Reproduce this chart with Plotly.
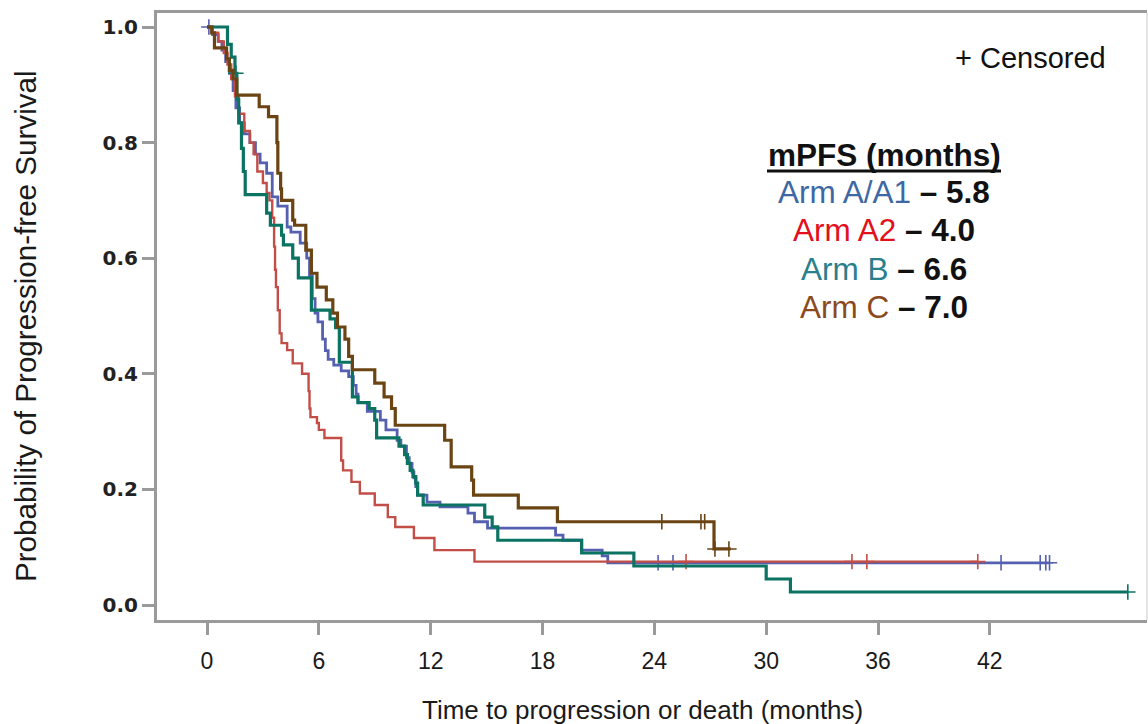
import numpy as np
import plotly.graph_objects as go

# Kaplan-Meier step data: event times (months) and survival after each step
arm_a_t = [0, 0.3, 0.6, 0.8, 1.0, 1.2, 1.4, 1.55, 1.75, 2.0, 2.3, 2.6, 2.85, 3.2, 3.5, 3.8, 4.3, 4.5,
           5.0, 5.35, 5.5, 5.65, 5.8, 5.95, 6.2, 6.35, 6.5, 6.8, 7.2, 7.6, 7.85, 8.0, 8.1, 8.6, 9.3,
           9.6, 10.2, 10.4, 10.7, 10.85, 11.0, 11.1, 11.2, 11.3, 11.8, 12.5, 14.0, 14.35, 15.05,
           18.7, 19.1, 20.1, 21.2, 21.5, 45.2]
arm_a_s = [1.0, 0.987, 0.975, 0.96, 0.94, 0.92, 0.89, 0.86, 0.834, 0.815, 0.80, 0.78, 0.765, 0.747,
           0.706, 0.69, 0.654, 0.645, 0.626, 0.60, 0.57, 0.53, 0.505, 0.49, 0.46, 0.44, 0.425, 0.415,
           0.405, 0.395, 0.38, 0.365, 0.35, 0.335, 0.32, 0.303, 0.285, 0.275, 0.255, 0.245, 0.23,
           0.22, 0.205, 0.19, 0.178, 0.17, 0.159, 0.144, 0.133, 0.121, 0.112, 0.095, 0.085, 0.073,
           0.073]
arm_a_cens = [0.1, 24.2, 25.0, 42.6, 44.7, 45.0, 45.2]

arm_a2_t = [0, 0.3, 0.6, 0.9, 1.1, 1.3, 1.5, 1.7, 2.0, 2.3, 2.5, 2.7, 3.0, 3.2, 3.35, 3.5, 3.6, 3.65,
            3.7, 3.8, 3.9, 4.0, 4.3, 4.6, 5.1, 5.45, 5.5, 5.55, 5.9, 6.0, 6.3, 7.2, 7.3, 7.75, 8.2,
            9.0, 9.7, 10.1, 11.1, 12.2, 14.35, 41.35]
arm_a2_s = [1.0, 0.99, 0.975, 0.955, 0.935, 0.91, 0.88, 0.85, 0.82, 0.80, 0.78, 0.75, 0.73, 0.713,
            0.70, 0.67, 0.62, 0.58, 0.55, 0.51, 0.47, 0.453, 0.441, 0.418, 0.40, 0.37, 0.34, 0.325,
            0.315, 0.303, 0.289, 0.25, 0.233, 0.213, 0.193, 0.173, 0.152, 0.135, 0.116, 0.095,
            0.075, 0.075]
arm_a2_cens = [25.7, 34.6, 35.4, 41.35]

arm_b_t = [0, 1.1, 1.3, 1.5, 1.6, 1.7, 1.85, 1.95, 2.05, 3.2, 3.4, 4.0, 4.1, 4.6, 4.9, 5.6, 6.6, 6.9,
           7.1, 7.8, 8.1, 8.7, 9.0, 9.1, 10.3, 10.6, 10.75, 10.9, 11.05, 11.2, 11.3, 11.6, 14.9,
           15.3, 15.6, 20.1, 22.9, 30.0, 31.3, 49.4]
arm_b_s = [1.0, 0.97, 0.948, 0.92, 0.875, 0.834, 0.79, 0.75, 0.71, 0.678, 0.657, 0.64, 0.623, 0.60,
           0.566, 0.51, 0.495, 0.48, 0.42, 0.36, 0.35, 0.34, 0.32, 0.289, 0.275, 0.26, 0.245, 0.233,
           0.222, 0.211, 0.19, 0.173, 0.152, 0.135, 0.112, 0.09, 0.0675, 0.045, 0.0225, 0.0225]
arm_b_cens = [1.55, 49.4]

arm_c_t = [0, 0.25, 0.4, 1.05, 1.2, 1.4, 1.6, 2.8, 3.3, 3.75, 3.8, 3.95, 4.0, 4.6, 4.7, 5.3, 5.6, 5.9,
           6.4, 6.75, 7.0, 7.4, 7.6, 7.8, 9.0, 9.5, 9.9, 10.1, 12.75, 13.1, 14.2, 14.3, 16.7, 18.8,
           27.2, 28.1]
arm_c_s = [1.0, 0.99, 0.964, 0.945, 0.925, 0.91, 0.882, 0.862, 0.845, 0.80, 0.747, 0.72, 0.70, 0.666,
           0.657, 0.614, 0.574, 0.55, 0.528, 0.505, 0.481, 0.46, 0.43, 0.407, 0.384, 0.36, 0.34,
           0.311, 0.285, 0.239, 0.216, 0.19, 0.168, 0.144, 0.097, 0.097]
arm_c_cens = [24.4, 26.5, 26.7, 27.25, 28.0]

arm_names = ["Arm A/A1", "Arm A2", "Arm B", "Arm C"]
median_pfs = ["5.8", "4.0", "6.6", "7.0"]

x_ticks = [0, 6, 12, 18, 24, 30, 36, 42]
y_ticks = [0.0, 0.2, 0.4, 0.6, 0.8, 1.0]

line_colors = ["#5560b0", "#c24e47", "#0b7362", "#6b4414"]
text_colors = ["#3d68a3", "#e3101b", "#2a7f8c", "#8b4a1d"]
line_widths = [2.8, 2.4, 3.2, 3.2]

curves = [
    (arm_a_t, arm_a_s, arm_a_cens),
    (arm_a2_t, arm_a2_s, arm_a2_cens),
    (arm_b_t, arm_b_s, arm_b_cens),
    (arm_c_t, arm_c_s, arm_c_cens),
]


def surv_at(times, surv, t):
    idx = np.searchsorted(np.asarray(times), t, side="right") - 1
    return np.asarray(surv)[np.clip(idx, 0, len(surv) - 1)]


fig = go.Figure()
for (t, s, cens), name, col, lw in zip(curves, arm_names, line_colors, line_widths):
    fig.add_trace(go.Scatter(x=t, y=s, mode="lines", line=dict(color=col, width=lw, shape="hv"),
                             name=name, showlegend=False, hoverinfo="skip"))
    fig.add_trace(go.Scatter(x=cens, y=surv_at(t, s, cens), mode="markers",
                             marker=dict(symbol="cross-thin", size=11,
                                         line=dict(color=col, width=1.6)),
                             showlegend=False, hoverinfo="skip"))

# plot area in pixels: x 157..1147, y 13..620
L, R, T, B = 157, 1147, 13, 620
W, H = R - L, B - T


def px(xp, yp):
    return (xp - L) / W, (B - yp) / H


FONT = "Liberation Sans, Arial"
annotations = []
ax, ay = px(1030, 58)
annotations.append(dict(x=ax, y=ay, text="+ Censored", showarrow=False,
                        font=dict(family=FONT, size=29, color="#111111")))
ax, ay = px(884, 155)
annotations.append(dict(x=ax, y=ay, text="<b>mPFS (months)</b>", showarrow=False,
                        font=dict(family=FONT, size=31.5, color="#111111")))
for i, (name, med, tc) in enumerate(zip(arm_names, median_pfs, text_colors)):
    ax, ay = px(884, 192 + i * 38.3)
    annotations.append(dict(
        x=ax, y=ay, showarrow=False,
        text=f"<span style='color:{tc}'>{name}</span><b> \u2013 {med}</b>",
        font=dict(family=FONT, size=31.5, color="#111111")))

ax, ay = px(642, 710)
annotations.append(dict(x=ax, y=ay, text="Time to progression or death (months)", showarrow=False,
                        font=dict(family=FONT, size=26, color="#1a1a1a")))
ax, ay = px(25, 326)
annotations.append(dict(x=ax, y=ay, text="Probability of Progression-free Survival", showarrow=False,
                        textangle=-90, font=dict(family=FONT, size=29.6, color="#1a1a1a")))
for a in annotations:
    a.update(xref="paper", yref="paper", xanchor="center", yanchor="middle")

# underline beneath the mPFS heading
ux0, uy = px(767, 171)
ux1, _ = px(1001, 171)

px_per_month = 18.64
x0 = -(207 - L) / px_per_month
x1 = x0 + W / px_per_month
y_per = 578.0
y0 = -(B - 605) / y_per
y1 = 1.0 + (27 - T) / y_per

fig.update_layout(
    width=1148, height=724,
    margin=dict(l=L, r=1148 - R, t=T, b=724 - B, pad=0),
    paper_bgcolor="white", plot_bgcolor="white",
    annotations=annotations,
    xaxis=dict(range=[x0, x1], tickvals=x_ticks, ticktext=[str(v) for v in x_ticks],
               showgrid=False, zeroline=False, showline=True, mirror=True,
               linecolor="#9a9a9a", linewidth=3, ticks="outside", ticklen=12, tickwidth=2.5,
               tickcolor="#9a9a9a", ticklabelstandoff=6,
               tickfont=dict(family=FONT, size=23, color="#1a1a1a")),
    yaxis=dict(range=[y0, y1], tickvals=y_ticks, ticktext=[f"{v:.1f}" for v in y_ticks],
               showgrid=False, zeroline=False, showline=True, mirror=False,
               linecolor="#9a9a9a", linewidth=3, ticks="outside", ticklen=12, tickwidth=2.5,
               tickcolor="#9a9a9a", ticklabelstandoff=0,
               tickfont=dict(family="DejaVu Sans", size=20, color="#222222", weight="bold")),
    shapes=[
        dict(type="line", xref="paper", yref="paper", x0=1, x1=1, y0=0, y1=1,
             line=dict(color="#e4e4e4", width=2)),
        dict(type="line", xref="paper", yref="paper", x0=ux0, x1=ux1, y0=uy, y1=uy,
             line=dict(color="#111111", width=3)),
    ],
)

fig.write_html("out.html")
